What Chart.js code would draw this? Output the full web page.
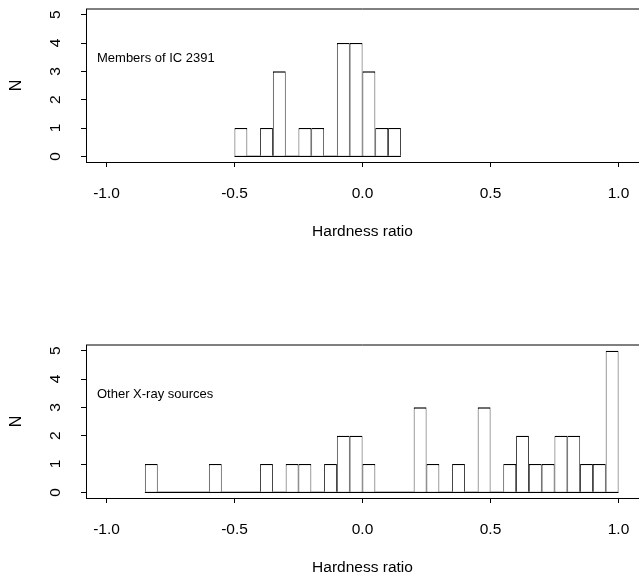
<!DOCTYPE html>
<html>
<head>
<meta charset="utf-8">
<script src="https://cdn.jsdelivr.net/npm/chart.js@4/dist/chart.umd.min.js"></script>
<style>
  html, body { margin: 0; padding: 0; background: #fff; overflow: hidden; }
  canvas { position: absolute; left: 0; }
  #hrMembers { top: 0; }
  #hrOthers { top: 336px; }
</style>
</head>
<body>
<canvas id="hrMembers" width="639" height="241"></canvas>
<canvas id="hrOthers" width="639" height="241"></canvas>
<script>
// Histogramas de hardness ratio (bins de 0.05)
const binWidth = 0.05;

// Membros de IC 2391: inicio de cada bin e contagem
const icBinStart = [-0.50, -0.45, -0.40, -0.35, -0.30, -0.25, -0.20, -0.15, -0.10, -0.05, 0.00, 0.05, 0.10];
const icCounts   = [1, 0, 1, 3, 0, 1, 1, 0, 4, 4, 3, 1, 1];

// Outras fontes de raio X
const otherBinStart = [-0.85, -0.80, -0.75, -0.70, -0.65, -0.60, -0.55, -0.50, -0.45, -0.40,
                       -0.35, -0.30, -0.25, -0.20, -0.15, -0.10, -0.05, 0.00, 0.05, 0.10,
                        0.15, 0.20, 0.25, 0.30, 0.35, 0.40, 0.45, 0.50, 0.55, 0.60,
                        0.65, 0.70, 0.75, 0.80, 0.85, 0.90, 0.95];
const otherCounts   = [1, 0, 0, 0, 0, 1, 0, 0, 0, 1,
                       0, 1, 1, 0, 1, 2, 2, 1, 0, 0,
                       0, 3, 1, 0, 1, 0, 3, 0, 1, 2,
                       1, 1, 2, 2, 1, 1, 5];

// Eixos
const xTickValues = [-1, -0.5, 0, 0.5, 1];
const xTickLabels = ['-1.0', '-0.5', '0.0', '0.5', '1.0'];
const yTickValues = [0, 1, 2, 3, 4, 5];
const xTitle = 'Hardness ratio';
const yTitle = 'N';

const FONT = "'Liberation Sans', Arial, Helvetica, sans-serif";
Chart.defaults.font.family = FONT;
Chart.defaults.color = '#000';

// Linha superior da caixa e texto do painel
const painelPlugin = {
  id: 'painel',
  afterDraw(chart, args, opts) {
    const { ctx, chartArea } = chart;
    ctx.save();
    ctx.strokeStyle = '#000';
    ctx.lineWidth = 1;
    ctx.beginPath();
    ctx.moveTo(chartArea.left, chartArea.top);
    ctx.lineTo(chartArea.right, chartArea.top);
    ctx.stroke();
    ctx.font = '13px ' + FONT;
    ctx.fillStyle = '#000';
    ctx.textAlign = 'left';
    ctx.textBaseline = 'middle';
    ctx.fillText(opts.text, chartArea.left + 11, chartArea.top + 49);
    ctx.restore();
  }
};

function criarHistograma(id, starts, counts, texto) {
  const barras = starts.map((s, i) => ({ x: s + binWidth / 2, y: counts[i] }));
  const base = [
    { x: starts[0], y: 0 },
    { x: starts[starts.length - 1] + binWidth, y: 0 }
  ];

  return new Chart(document.getElementById(id), {
    type: 'bar',
    data: {
      datasets: [
        {
          type: 'bar',
          data: barras,
          backgroundColor: '#fff',
          borderColor: '#000',
          borderWidth: { top: 1.3, left: 0.85, right: 0.85, bottom: 0 },
          borderSkipped: false,
          inflateAmount: 0,
          barPercentage: 1,
          categoryPercentage: 1
        },
        {
          type: 'line',
          data: base,
          borderColor: '#000',
          borderWidth: 1.3,
          pointRadius: 0,
          fill: false
        }
      ]
    },
    options: {
      responsive: false,
      animation: false,
      devicePixelRatio: 1,
      layout: { padding: { top: 9, left: 0, right: 0, bottom: 0 } },
      plugins: {
        legend: { display: false },
        tooltip: { enabled: false },
        painel: { text: texto }
      },
      scales: {
        x: {
          type: 'linear',
          min: -1.08,
          max: 1.08,
          offset: false,
          afterBuildTicks: s => { s.ticks = xTickValues.map(v => ({ value: v })); },
          afterFit: s => { s.height = 79; s.paddingLeft = 0; s.paddingRight = 0; },
          grid: { display: true, drawOnChartArea: false, drawTicks: true, tickLength: 5, color: '#000', offset: false },
          border: { display: true, color: '#000', width: 1 },
          ticks: {
            autoSkip: false, maxRotation: 0, padding: 17,
            font: { size: 15.5 },
            callback: (v, i) => xTickLabels[i]
          },
          title: { display: true, text: xTitle, font: { size: 15.5 }, padding: { top: 0, bottom: 0 } }
        },
        y: {
          type: 'linear',
          min: -0.2,
          max: 5.2,
          afterBuildTicks: s => { s.ticks = yTickValues.map(v => ({ value: v })); },
          afterFit: s => { s.width = 86; s.paddingTop = 0; s.paddingBottom = 0; },
          grid: { display: true, drawOnChartArea: false, drawTicks: true, tickLength: 5, color: '#000' },
          border: { display: true, color: '#000', width: 1 },
          ticks: {
            autoSkip: false, minRotation: 90, maxRotation: 90, crossAlign: 'center', padding: 21,
            font: { size: 15.5 },
            callback: v => String(v)
          },
          title: { display: true, text: yTitle, font: { size: 16 }, padding: { top: 7, bottom: 0 } }
        }
      }
    },
    plugins: [painelPlugin]
  });
}

criarHistograma('hrMembers', icBinStart, icCounts, 'Members of IC 2391');
criarHistograma('hrOthers', otherBinStart, otherCounts, 'Other X-ray sources');
</script>
</body>
</html>
